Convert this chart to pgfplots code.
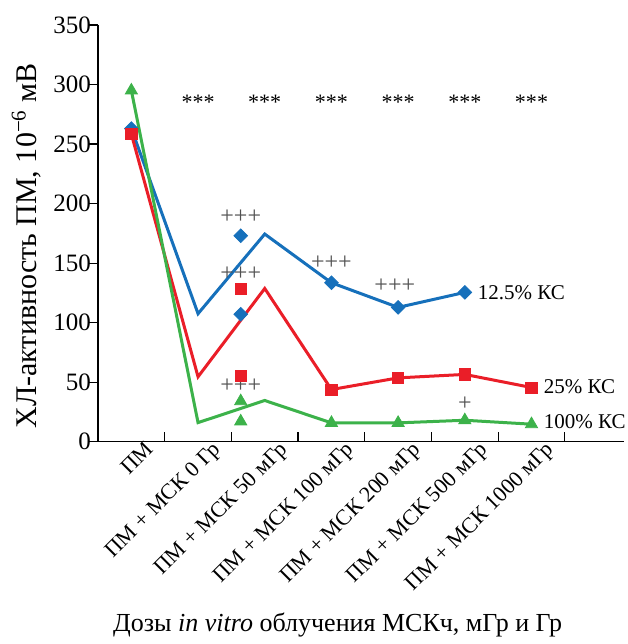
\documentclass[border=0pt]{standalone}
\usepackage{fontspec}
\setmainfont{Liberation Serif}
\usepackage{pgfplots}
\pgfplotsset{compat=1.18}
\definecolor{cblue}{RGB}{22,112,187}
\definecolor{cred}{RGB}{234,30,40}
\definecolor{cgreen}{RGB}{60,178,74}
\definecolor{cgray}{RGB}{80,80,80}
\begin{document}
\begin{tikzpicture}
\begin{axis}[
  scale only axis,
  width=262.7pt, height=208.3pt,
  xmin=-0.5, xmax=7.38,
  ymin=0, ymax=350,
  axis x line=bottom, axis y line=left,
  axis line style={-, line width=0.6pt},
  ytick={0,50,...,350},
  xtick={0,1,2,3,4,5,6},
  xticklabels={ПМ, ПМ + МСК 0 Гр, ПМ + МСК 50 мГр, ПМ + МСК 100 мГр, ПМ + МСК 200 мГр, ПМ + МСК 500 мГр, ПМ + МСК 1000 мГр},
  xticklabel style={font=\fontsize{11}{12}\selectfont, rotate=45, anchor=north east, xshift=8.5pt, yshift=-0.5pt},
  tick align=inside,
  x tick style={draw=none},
  y tick style={line width=0.6pt, black, xshift=-5pt},
  major tick length=5pt,
  /pgf/number format/assume math mode=true,
  tick label style={font=\fontsize{12.5}{15}\selectfont},
  ylabel={ХЛ-активность ПМ, 10\textsuperscript{−6} мВ},
  ylabel style={font=\fontsize{15}{17}\selectfont, at={(axis description cs:0,0.47)}, anchor=base, yshift=31pt},
  xlabel={Дозы \textit{in vitro} облучения МСКч, мГр и Гр},
  xlabel style={font=\fontsize{13}{15}\selectfont, at={(axis description cs:0.456,0)}, anchor=base, yshift=-95pt},
  clip=false,
]
% 12.5% KC
\addplot[cblue, line width=1.5pt, mark=square*, mark size=2.4pt, mark options={rotate=45, line width=0.4pt}, mark indices={1,4,5,6}]
  coordinates {(0,263) (1,107.5) (2,174.4) (3,133.5) (4,112.8) (5,125.4)};
% 25% KC
\addplot[cred, line width=1.5pt, mark=square*, mark size=2.8pt, mark options={line width=0.4pt}, mark indices={1,4,5,6,7}]
  coordinates {(0,258.4) (1,54.5) (2,128.7) (3,43.8) (4,53.6) (5,56.5) (6,45.5)};
% 100% KC
\addplot[cgreen, line width=1.5pt, mark=triangle*, mark size=3.5pt, mark options={line width=0.4pt}, mark indices={1,4,5,6,7}]
  coordinates {(0,295) (1,16) (2,34.6) (3,15.8) (4,15.8) (5,18) (6,14.7)};
% extra markers at 50 mGy
\addplot[only marks, cblue, mark=square*, mark size=2.4pt, mark options={rotate=45, line width=0.4pt}] coordinates {(1.64,173) (1.64,107)};
\addplot[only marks, cred, mark=square*, mark size=2.8pt, mark options={line width=0.4pt}] coordinates {(1.64,128) (1.64,55)};
\addplot[only marks, cgreen, mark=triangle*, mark size=3.5pt, mark options={line width=0.4pt}] coordinates {(1.64,34) (1.64,17)};
% category boundary ticks on the x axis
\pgfplotsinvokeforeach{0.5,1.5,2.5,3.5,4.5,5.5,6.5}{
  \draw[line width=0.6pt, black] (axis cs:#1,0) -- ++(0pt,5pt);
}
% significance marks
\pgfplotsinvokeforeach{1,2,3,4,5,6}{
  \node[anchor=base, font=\fontsize{11}{13}\selectfont] at (axis cs:#1,279) {***};
}
\node[cgray, font=\fontsize{12}{14}\selectfont] at (axis cs:1.64,189) {+++};
\node[cgray, font=\fontsize{12}{14}\selectfont] at (axis cs:1.64,140.7) {+++};
\node[cgray, font=\fontsize{12}{14}\selectfont] at (axis cs:1.64,47) {+++};
\node[cgray, font=\fontsize{12}{14}\selectfont] at (axis cs:3.0,150) {+++};
\node[cgray, font=\fontsize{12}{14}\selectfont] at (axis cs:3.95,130.7) {+++};
\node[cgray, font=\fontsize{12}{14}\selectfont] at (axis cs:5.0,31.5) {+};
% series labels
\node[anchor=west, inner sep=0pt, font=\fontsize{10.5}{12}\selectfont] at (axis cs:5.19,125.4) {12.5\% КС};
\node[anchor=west, inner sep=0pt, font=\fontsize{10.5}{12}\selectfont] at (axis cs:6.18,46.6) {25\% КС};
\node[anchor=west, inner sep=0pt, font=\fontsize{10.5}{12}\selectfont] at (axis cs:6.18,16.6) {100\% КС};
% margins as in the reference
\path (axis description cs:0,1) -- ++(0pt,12.5pt);
\path (axis description cs:0,0) -- ++(-49pt,-101pt);
\path (axis description cs:1,0) -- ++(2pt,0pt);
\end{axis}
\end{tikzpicture}
\end{document}
